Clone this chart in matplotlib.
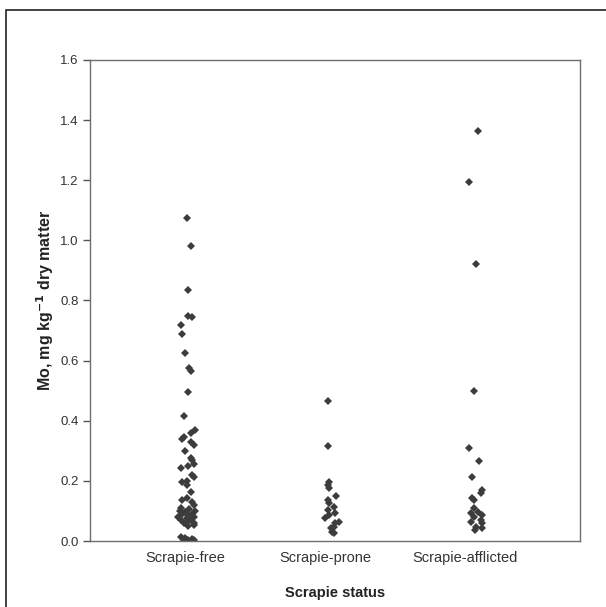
import matplotlib
matplotlib.use("Agg")
import matplotlib.pyplot as plt
from matplotlib.patches import Rectangle

plt.rcParams['font.family'] = ['Liberation Sans', 'DejaVu Sans']

categories = ["Scrapie-free", "Scrapie-prone", "Scrapie-afflicted"]

# Mo values (mg/kg dry matter), with the small
# horizontal scatter of each point (in category units)
free_mo = [1.075, 0.98, 0.835, 0.75, 0.745, 0.72, 0.69, 0.625, 0.575, 0.565,
           0.495, 0.415, 0.37, 0.36, 0.345, 0.34, 0.33, 0.32, 0.30, 0.275,
           0.27, 0.256, 0.25, 0.243, 0.22, 0.213, 0.20, 0.196, 0.186, 0.163,
           0.143, 0.136, 0.13, 0.12, 0.11, 0.105, 0.10, 0.10, 0.095, 0.09,
           0.09, 0.085, 0.08, 0.08, 0.075, 0.07, 0.07, 0.065, 0.06, 0.06,
           0.053, 0.05, 0.015, 0.01, 0.008, 0.005, 0.003, 0.002]
free_dx = [0.01, 0.04, 0.02, 0.02, 0.05, -0.03, -0.02, 0.0, 0.03, 0.04,
           0.02, -0.01, 0.07, 0.04, -0.01, -0.02, 0.04, 0.06, 0.0, 0.04,
           0.05, 0.06, 0.02, -0.03, 0.05, 0.06, 0.01, -0.02, 0.01, 0.04,
           0.01, -0.02, 0.05, 0.06, -0.03, 0.03, -0.04, 0.07, 0.0, -0.02,
           0.05, 0.02, -0.05, 0.06, 0.01, -0.03, 0.04, 0.02, -0.01, 0.06,
           0.06, 0.02, -0.03, 0.0, 0.05, 0.02, 0.06, -0.01]

prone_mo = [0.465, 0.315, 0.195, 0.185, 0.177, 0.15, 0.137, 0.127, 0.113,
            0.103, 0.093, 0.087, 0.075, 0.063, 0.06, 0.047, 0.043, 0.03, 0.027]
prone_dx = [0.02, 0.02, 0.03, 0.02, 0.03, 0.08, 0.02, 0.03, 0.06, 0.02,
            0.07, 0.03, 0.0, 0.1, 0.07, 0.06, 0.04, 0.05, 0.06]

afflicted_mo = [1.365, 1.195, 0.92, 0.50, 0.31, 0.266, 0.213, 0.17, 0.16,
                0.143, 0.136, 0.11, 0.096, 0.093, 0.086, 0.08, 0.07, 0.063,
                0.06, 0.047, 0.043, 0.037]
afflicted_dx = [0.09, 0.03, 0.08, 0.06, 0.03, 0.1, 0.05, 0.12, 0.11,
                0.05, 0.06, 0.06, 0.09, 0.04, 0.12, 0.06, 0.11, 0.04,
                0.12, 0.08, 0.12, 0.07]

yticks = [0.0, 0.2, 0.4, 0.6, 0.8, 1.0, 1.2, 1.4, 1.6]

fig = plt.figure(figsize=(6.06, 6.07), dpi=100)
ax = fig.add_axes([0.1485, 0.1087, 0.8085, 0.7925])

groups = [(free_mo, free_dx), (prone_mo, prone_dx), (afflicted_mo, afflicted_dx)]
for i, (mo, dx) in enumerate(groups):
    xs = [i + 1 + d for d in dx]
    ax.plot(xs, mo, linestyle='none', marker='D', markersize=3.8,
            color='#3c3c3c', markeredgewidth=0)

ax.set_xlim(0.32, 3.82)
ax.set_ylim(0, 1.6)
ax.set_yticks(yticks)
ax.set_yticklabels(["%.1f" % v for v in yticks])
ax.set_xticks([1, 2, 3])
ax.set_xticklabels(categories)
ax.tick_params(axis='x', length=0, pad=7, labelsize=10.5, labelcolor='#333333')
ax.tick_params(axis='y', length=5, width=1, color='#555555', pad=3,
               labelsize=9.5, labelcolor='#333333')
for s in ax.spines.values():
    s.set_color('#6e6e6e')
    s.set_linewidth(1)

ax.set_xlabel("Scrapie status", fontsize=10.5, fontweight='bold',
              color='#222222', labelpad=15)
ax.set_ylabel(r"Mo, mg kg$^{\mathbf{-1}}$ dry matter", fontsize=11.5,
              fontweight='bold', color='#222222', labelpad=3)

# outer frame of the original figure
fig.patches.append(Rectangle((6 / 606, -0.05), 1.1, 1 - 10 / 607 + 0.05,
                             transform=fig.transFigure, fill=False,
                             edgecolor='#222222', linewidth=1.2))

fig.savefig("out.png", dpi=100)
